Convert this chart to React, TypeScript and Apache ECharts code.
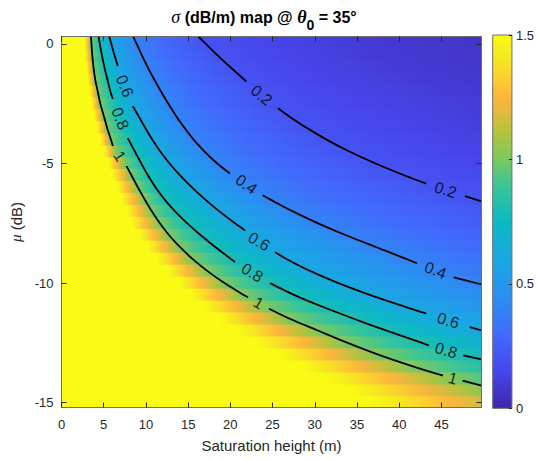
import React, { useEffect, useRef } from 'react';
import * as echarts from 'echarts';

// ---------- axes / ticks ----------
const xTicks = [0, 5, 10, 15, 20, 25, 30, 35, 40, 45];
const yTicks = [0, -5, -10, -15];
const cbTicks = [0, 0.5, 1, 1.5];
const X_MIN = 0;
const X_MAX = 49.75;
const Y_MIN = -15.2;
const Y_MAX = 0.31;
const CB_MIN = 0;
const CB_MAX = 1.5;

// ---------- sigma field, read row by row: [saturation height (m), sigma (dB/m)] ----------
const fieldRows = [
  { mu: 0, pts: [[0, 1.5], [2.7, 1.5], [3.55, 1], [4.54, 0.8], [5.9, 0.6], [8.9, 0.4], [11.8, 0.3], [17.1, 0.2], [23.7, 0.15], [35.5, 0.1], [49.75, 0.071]] },
  { mu: -0.5, pts: [[0, 1.5], [2.8, 1.5], [3.65, 1], [4.8, 0.8], [6.3, 0.6], [9.55, 0.4], [12.6, 0.3], [18.55, 0.2], [25.2, 0.15], [37.8, 0.1], [49.75, 0.076]] },
  { mu: -1, pts: [[0, 1.5], [2.95, 1.5], [3.8, 1], [5.1, 0.8], [6.75, 0.6], [10.25, 0.4], [13.5, 0.3], [20.1, 0.2], [27, 0.15], [40.5, 0.1], [49.75, 0.081]] },
  { mu: -1.5, pts: [[0, 1.5], [3.1, 1.5], [4.0, 1], [5.45, 0.8], [7.25, 0.6], [11.0, 0.4], [14.5, 0.3], [21.65, 0.2], [29, 0.15], [43.5, 0.1], [49.75, 0.087]] },
  { mu: -2, pts: [[0, 1.5], [3.3, 1.5], [4.3, 1], [5.8, 0.8], [7.8, 0.6], [11.8, 0.4], [15.6, 0.3], [23.3, 0.2], [31.1, 0.15], [46.7, 0.1], [49.75, 0.094]] },
  { mu: -2.5, pts: [[0, 1.5], [3.55, 1.5], [4.6, 1], [6.3, 0.8], [8.35, 0.6], [12.65, 0.4], [16.8, 0.3], [24.95, 0.2], [33.7, 0.15], [49.75, 0.102]] },
  { mu: -3, pts: [[0, 1.5], [3.85, 1.5], [5.0, 1], [6.8, 0.8], [9.1, 0.6], [13.55, 0.4], [18.2, 0.3], [26.85, 0.2], [36.3, 0.15], [49.75, 0.11]] },
  { mu: -3.5, pts: [[0, 1.5], [4.2, 1.5], [5.4, 1], [7.35, 0.8], [9.9, 0.6], [14.55, 0.4], [19.7, 0.3], [29.0, 0.2], [39.3, 0.15], [49.75, 0.119]] },
  { mu: -4, pts: [[0, 1.5], [4.55, 1.5], [5.85, 1], [7.95, 0.8], [10.75, 0.6], [15.65, 0.4], [21.2, 0.3], [31.4, 0.2], [42.3, 0.15], [49.75, 0.128]] },
  { mu: -4.5, pts: [[0, 1.5], [5.0, 1.5], [6.45, 1], [8.7, 0.8], [11.7, 0.6], [16.95, 0.4], [23, 0.3], [34.1, 0.2], [46, 0.15], [49.75, 0.139]] },
  { mu: -5, pts: [[0, 1.5], [5.5, 1.5], [7.45, 1], [9.45, 0.8], [12.8, 0.6], [18.45, 0.4], [25, 0.3], [37.2, 0.2], [49.75, 0.151]] },
  { mu: -5.5, pts: [[0, 1.5], [6.0, 1.5], [8.3, 1], [10.25, 0.8], [14.05, 0.6], [20.3, 0.4], [27.3, 0.3], [40.65, 0.2], [49.75, 0.165]] },
  { mu: -6, pts: [[0, 1.5], [6.5, 1.5], [9.05, 1], [11.15, 0.8], [15.45, 0.6], [22.5, 0.4], [29.8, 0.3], [44.6, 0.2], [49.75, 0.18]] },
  { mu: -6.5, pts: [[0, 1.5], [7.1, 1.5], [9.85, 1], [12.2, 0.8], [17.0, 0.6], [24.7, 0.4], [32.8, 0.3], [49.1, 0.2], [49.75, 0.198]] },
  { mu: -7, pts: [[0, 1.5], [7.7, 1.5], [10.7, 1], [13.45, 0.8], [18.7, 0.6], [27.4, 0.4], [36.3, 0.3], [49.75, 0.219]] },
  { mu: -7.5, pts: [[0, 1.5], [8.3, 1.5], [11.65, 1], [14.9, 0.8], [20.55, 0.6], [30.4, 0.4], [39.7, 0.3], [49.75, 0.239]] },
  { mu: -8, pts: [[0, 1.5], [9.2, 1.5], [12.75, 1], [16.5, 0.8], [22.55, 0.6], [33.7, 0.4], [43.7, 0.3], [49.75, 0.263]] },
  { mu: -8.5, pts: [[0, 1.5], [10.2, 1.5], [14.05, 1], [18.25, 0.8], [24.4, 0.6], [37.3, 0.4], [48.3, 0.3], [49.75, 0.291]] },
  { mu: -9, pts: [[0, 1.5], [11.3, 1.5], [15.55, 1], [20.1, 0.8], [26.7, 0.6], [40.9, 0.4], [49.75, 0.32]] },
  { mu: -9.5, pts: [[0, 1.5], [12.5, 1.5], [17.3, 1], [22.25, 0.8], [29.5, 0.6], [44.9, 0.4], [49.75, 0.356]] },
  { mu: -10, pts: [[0, 1.5], [13.9, 1.5], [19.3, 1], [24.7, 0.8], [32.8, 0.6], [49.4, 0.4], [49.75, 0.398]] },
  { mu: -10.5, pts: [[0, 1.5], [15.3, 1.5], [21.6, 1], [27.6, 0.8], [36.6, 0.6], [49.75, 0.442]] },
  { mu: -11, pts: [[0, 1.5], [16.9, 1.5], [24.2, 1], [31.0, 0.8], [40.8, 0.6], [49.75, 0.496]] },
  { mu: -11.5, pts: [[0, 1.5], [18.7, 1.5], [27.1, 1], [34.7, 0.8], [45.1, 0.6], [49.75, 0.553]] },
  { mu: -12, pts: [[0, 1.5], [20.8, 1.5], [30.5, 1], [38.6, 0.8], [49.75, 0.6]] },
  { mu: -12.5, pts: [[0, 1.5], [23.2, 1.5], [33.9, 1], [42.7, 0.8], [49.75, 0.683]] },
  { mu: -13, pts: [[0, 1.5], [25.8, 1.5], [37.6, 1], [47.3, 0.8], [49.75, 0.76]] },
  { mu: -13.5, pts: [[0, 1.5], [28.5, 1.5], [41.8, 1], [49.75, 0.84]] },
  { mu: -14, pts: [[0, 1.5], [31.3, 1.5], [46.6, 1], [49.75, 0.93]] },
  { mu: -14.5, pts: [[0, 1.5], [34.0, 1.5], [49.75, 1.035]] },
  { mu: -15, pts: [[0, 1.5], [36.5, 1.5], [49.75, 1.15]] },
];

// ---------- contour lines (segments between inline labels), [h, mu] ----------
const contour02 = [
  [[16.2, 0.31], [17.1, 0], [18.55, -0.5], [20.1, -1], [21.9, -1.58]],
  [[25.65, -2.69], [26.85, -3], [29.0, -3.5], [31.4, -4], [34.1, -4.5], [37.2, -5], [40.65, -5.5], [43.2, -5.84]],
  [[47.8, -6.36], [49.75, -6.58]],
];
const contour04 = [
  [[8.5, 0.31], [8.9, 0], [9.55, -0.5], [10.25, -1], [11.0, -1.5], [11.8, -2], [12.65, -2.5], [13.55, -3], [14.55, -3.5], [15.65, -4], [16.95, -4.5], [18.45, -5], [19.95, -5.42]],
  [[23.84, -6.33], [24.7, -6.5], [27.4, -7], [30.4, -7.5], [33.7, -8], [37.3, -8.5], [40.9, -9], [42.1, -9.17]],
  [[46.46, -9.76], [49.75, -10.05]],
];
const contour06 = [
  [[5.65, 0.31], [5.9, 0], [6.3, -0.5], [6.67, -0.92]],
  [[8.44, -2.6], [9.1, -3], [9.9, -3.5], [10.75, -4], [11.7, -4.5], [12.8, -5], [14.05, -5.5], [15.45, -6], [17.0, -6.5], [18.7, -7], [20.55, -7.5], [21.75, -7.8]],
  [[25.3, -8.71], [26.7, -9], [29.5, -9.5], [32.8, -10], [36.6, -10.5], [40.8, -11], [43.2, -11.27]],
  [[48.35, -11.84], [49.75, -11.98]],
];
const contour08 = [
  [[4.39, 0.31], [4.54, 0], [4.8, -0.5], [5.1, -1], [5.45, -1.5], [5.8, -2], [6.08, -2.3]],
  [[7.85, -3.94], [8.7, -4.5], [9.45, -5], [10.25, -5.5], [11.15, -6], [12.2, -6.5], [13.45, -7], [14.9, -7.5], [16.5, -8], [18.25, -8.5], [20.1, -9], [20.55, -9.12]],
  [[24.7, -10], [27.6, -10.5], [31.0, -11], [34.7, -11.5], [38.6, -12], [42.7, -12.5], [43.5, -12.6]],
  [[47.6, -13.02], [49.75, -13.19]],
];
const contour10 = [
  [[3.49, 0.31], [3.55, 0], [3.65, -0.5], [3.8, -1], [4.0, -1.5], [4.3, -2], [4.6, -2.5], [5.0, -3], [5.4, -3.5], [5.85, -4], [6.08, -4.27]],
  [[7.7, -5.11], [8.3, -5.5], [9.05, -6], [9.85, -6.5], [10.7, -7], [11.65, -7.5], [12.75, -8], [14.05, -8.5], [15.55, -9], [17.3, -9.5], [19.3, -10], [21.6, -10.5], [22.1, -10.59]],
  [[24.6, -11.07], [27.1, -11.5], [30.5, -12], [33.9, -12.5], [37.6, -13], [41.8, -13.5], [45.2, -13.87]],
  [[47.5, -14.08], [49.75, -14.29]],
];
const contours = [contour02, contour04, contour06, contour08, contour10];

// inline labels: text, h, mu, angle (deg)
const labelText = ['0.2', '0.2', '0.4', '0.4', '0.6', '0.6', '0.6', '0.8', '0.8', '0.8', '1', '1', '1'];
const labelH = [23.7, 45.5, 21.9, 44.3, 7.5, 23.4, 45.8, 6.95, 22.6, 45.55, 6.9, 23.35, 46.35];
const labelMu = [-2.14, -6.1, -5.87, -9.46, -1.76, -8.26, -11.56, -3.12, -9.56, -12.81, -4.69, -10.83, -13.98];
const labelAngle = [-40, -18, -36, -21, -68, -30, -17, -68, -31, -16, -56, -30, -16];

// ---------- styling ----------
const FONT = '"Liberation Sans", Arial, Helvetica, sans-serif';
const SERIF = '"Liberation Serif", "Times New Roman", serif';
const TXT = '#262626';
const FRAME = '#6e6e6e';
const PARULA: [number, number[]][] = [
  [0.0, [62, 38, 168]],
  [0.1, [71, 70, 236]],
  [0.2, [65, 108, 252]],
  [0.3, [42, 143, 242]],
  [0.4, [25, 168, 225]],
  [0.5, [12, 185, 195]],
  [0.6, [60, 197, 150]],
  [0.667, [125, 200, 95]],
  [0.74, [180, 195, 60]],
  [0.79, [225, 186, 62]],
  [0.83, [252, 180, 60]],
  [0.88, [252, 205, 48]],
  [0.94, [245, 232, 32]],
  [1.0, [249, 251, 20]],
];

function cmap(v: number): string {
  let f = (v - CB_MIN) / (CB_MAX - CB_MIN);
  f = Math.max(0, Math.min(1, f));
  for (let i = 0; i < PARULA.length - 1; i++) {
    const [f0, c0] = PARULA[i];
    const [f1, c1] = PARULA[i + 1];
    if (f <= f1) {
      const t = (f - f0) / (f1 - f0);
      const c = c0.map((a, k) => Math.round(a + (c1[k] - a) * t));
      return `rgb(${c[0]},${c[1]},${c[2]})`;
    }
  }
  const c = PARULA[PARULA.length - 1][1];
  return `rgb(${c[0]},${c[1]},${c[2]})`;
}

export default function App() {
  const ref = useRef<HTMLDivElement>(null);
  useEffect(() => {
    if (!ref.current) return;
    const chart = echarts.init(ref.current, undefined, { renderer: 'svg' });

    const fieldSeries = {
      type: 'custom',
      xAxisIndex: 0,
      yAxisIndex: 0,
      silent: true,
      z: 1,
      data: fieldRows.map((r, i) => [X_MIN, r.mu, i]),
      renderItem: (params: any, api: any) => {
        const i = api.value(2);
        const row = fieldRows[i];
        const prev = fieldRows[i - 1];
        const next = fieldRows[i + 1];
        const top = prev ? (prev.mu + row.mu) / 2 : Y_MAX;
        const bot = next ? (next.mu + row.mu) / 2 : Y_MIN;
        const p0 = api.coord([X_MIN, top]);
        const p1 = api.coord([X_MAX, bot]);
        const stops: { offset: number; color: string }[] = [];
        const n = 10;
        for (let k = 0; k < row.pts.length - 1; k++) {
          const [ha, sa] = row.pts[k];
          const [hb, sb] = row.pts[k + 1];
          for (let j = k === 0 ? 0 : 1; j <= n; j++) {
            const t = j / n;
            stops.push({
              offset: Math.max(0, Math.min(1, (ha + (hb - ha) * t - X_MIN) / (X_MAX - X_MIN))),
              color: cmap(sa + (sb - sa) * t),
            });
          }
        }
        return {
          type: 'rect',
          shape: { x: p0[0], y: p0[1] - 0.4, width: p1[0] - p0[0], height: p1[1] - p0[1] + 0.8 },
          style: { fill: new echarts.graphic.LinearGradient(0, 0, 1, 0, stops) },
        };
      },
    };

    const colorbarSeries = {
      type: 'custom',
      xAxisIndex: 2,
      yAxisIndex: 2,
      silent: true,
      z: 1,
      data: [[0, CB_MIN]],
      renderItem: (params: any, api: any) => {
        const p0 = api.coord([0, CB_MAX]);
        const p1 = api.coord([1, CB_MIN]);
        const stops: { offset: number; color: string }[] = [];
        const n = 80;
        for (let j = 0; j <= n; j++) {
          const t = j / n;
          stops.push({ offset: t, color: cmap(CB_MAX - (CB_MAX - CB_MIN) * t) });
        }
        const shape = { x: p0[0], y: p0[1], width: p1[0] - p0[0], height: p1[1] - p0[1] };
        return {
          type: 'group',
          children: [
            { type: 'rect', shape, style: { fill: new echarts.graphic.LinearGradient(0, 0, 0, 1, stops) } },
            { type: 'rect', shape, style: { fill: 'none', stroke: FRAME, lineWidth: 1 } },
          ],
        };
      },
    };

    const lineSeries: any[] = [];
    contours.forEach((segs) => {
      segs.forEach((seg) => {
        lineSeries.push({
          type: 'line',
          xAxisIndex: 0,
          yAxisIndex: 0,
          data: seg,
          showSymbol: false,
          symbol: 'none',
          smooth: 0.35,
          silent: true,
          z: 4,
          lineStyle: { color: '#000', width: 1.8 },
        });
      });
    });

    const labelSeries = {
      type: 'scatter',
      xAxisIndex: 0,
      yAxisIndex: 0,
      silent: true,
      z: 5,
      symbolSize: 1,
      itemStyle: { color: 'rgba(0,0,0,0)' },
      label: {
        show: true,
        position: 'inside',
        formatter: '{b}',
        color: '#000',
        fontSize: 16,
        fontFamily: FONT,
      },
      data: labelText.map((t, i) => ({
        name: t,
        value: [labelH[i], labelMu[i]],
        label: { rotate: labelAngle[i] },
      })),
    };

    const frameLine = { show: true, onZero: false, lineStyle: { color: FRAME, width: 1 } };

    chart.setOption({
      animation: false,
      backgroundColor: '#ffffff',
      grid: [
        { left: 61.5, right: 55.5, top: 36.5, bottom: 52.5 },
        { left: 492.7, top: 35, width: 23.3, height: 373.3 },
      ],
      xAxis: [
        {
          gridIndex: 0, type: 'value', min: X_MIN, max: X_MAX, position: 'bottom', z: 10,
          axisLine: frameLine,
          axisTick: { show: true, inside: true, length: 5, customValues: xTicks, lineStyle: { color: TXT } },
          axisLabel: { show: true, customValues: xTicks, color: TXT, fontSize: 13, margin: 10, fontFamily: FONT },
          splitLine: { show: false },
          name: 'Saturation height (m)', nameLocation: 'middle', nameGap: 30,
          nameTextStyle: { color: TXT, fontSize: 15, fontFamily: FONT },
        },
        {
          gridIndex: 0, type: 'value', min: X_MIN, max: X_MAX, position: 'top', z: 10,
          axisLine: frameLine,
          axisTick: { show: true, inside: true, length: 5, customValues: xTicks, lineStyle: { color: TXT } },
          axisLabel: { show: false },
          splitLine: { show: false },
        },
        { gridIndex: 1, type: 'value', min: 0, max: 1, show: false },
      ],
      yAxis: [
        {
          gridIndex: 0, type: 'value', min: Y_MIN, max: Y_MAX, position: 'left', z: 10,
          axisLine: frameLine,
          axisTick: { show: true, inside: true, length: 5, customValues: yTicks, lineStyle: { color: TXT } },
          axisLabel: { show: true, customValues: yTicks, color: TXT, fontSize: 13, margin: 8, fontFamily: FONT },
          splitLine: { show: false },
          name: '{i|μ} (dB)', nameLocation: 'middle', nameGap: 18, nameRotate: 90,
          nameTextStyle: {
            color: TXT, fontSize: 15, fontFamily: FONT,
            rich: { i: { fontStyle: 'italic', fontSize: 15, fontFamily: SERIF, color: TXT } },
          },
        },
        {
          gridIndex: 0, type: 'value', min: Y_MIN, max: Y_MAX, position: 'right', z: 10,
          axisLine: frameLine,
          axisTick: { show: true, inside: true, length: 5, customValues: yTicks, lineStyle: { color: TXT } },
          axisLabel: { show: false },
          splitLine: { show: false },
        },
        {
          gridIndex: 1, type: 'value', min: CB_MIN, max: CB_MAX, interval: 0.5, position: 'right', z: 10,
          axisLine: { show: false, onZero: false },
          axisTick: { show: true, inside: true, length: 3, customValues: cbTicks, lineStyle: { color: TXT } },
          axisLabel: { show: true, customValues: cbTicks, color: TXT, fontSize: 13, margin: 4, fontFamily: FONT },
          splitLine: { show: false },
        },
      ],
      series: [fieldSeries, colorbarSeries, ...lineSeries, labelSeries],
      graphic: [
        {
          type: 'text',
          x: 264,
          y: 17,
          z: 20,
          style: {
            text: '{s|σ} (dB/m) map @ {t|θ}{sub|0} = 35°',
            fontFamily: FONT,
            fontSize: 16,
            fontWeight: 'bold',
            fill: '#000',
            align: 'center',
            verticalAlign: 'middle',
            rich: {
              s: { fontFamily: SERIF, fontStyle: 'italic', fontWeight: 'normal', fontSize: 18, fill: '#000', verticalAlign: 'middle' },
              t: { fontFamily: SERIF, fontStyle: 'italic', fontWeight: 'bold', fontSize: 18, fill: '#000', verticalAlign: 'middle' },
              sub: { fontFamily: FONT, fontWeight: 'bold', fontSize: 14, fill: '#000', padding: [16, 0, 0, 0], verticalAlign: 'middle' },
            },
          },
        },
      ],
    });

    return () => chart.dispose();
  }, []);

  return (
    <div
      ref={ref}
      style={{ position: 'fixed', left: 0, top: 0, width: 537, height: 460, background: '#fff' }}
    />
  );
}
